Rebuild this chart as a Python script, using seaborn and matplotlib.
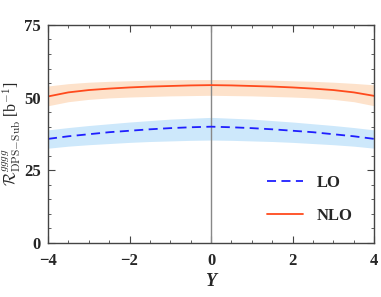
import numpy as np
import pandas as pd
import seaborn as sns
import matplotlib.pyplot as plt

# rapidity grid and values
rapidity = [-4, -3.5, -3, -2.5, -2, -1.5, -1, -0.5, 0, 0.5, 1, 1.5, 2, 2.5, 3, 3.5, 4]

lo_central = [35.8, 36.7, 37.4, 38.1, 38.6, 39.1, 39.5, 39.8, 40.0,
              39.8, 39.5, 39.1, 38.6, 38.1, 37.4, 36.7, 35.8]
lo_upper = [38.9, 39.7, 40.4, 41.0, 41.6, 42.1, 42.6, 42.9, 43.2,
            42.9, 42.6, 42.1, 41.6, 41.0, 40.4, 39.7, 38.9]
lo_lower = [32.6, 33.3, 33.8, 34.2, 34.6, 34.9, 35.1, 35.3, 35.4,
            35.3, 35.1, 34.9, 34.6, 34.2, 33.8, 33.3, 32.6]

nlo_central = [50.4, 51.8, 52.6, 53.1, 53.5, 53.8, 54.0, 54.2, 54.3,
               54.2, 54.0, 53.8, 53.5, 53.1, 52.6, 51.8, 50.6]
nlo_upper = [54.0, 54.8, 55.3, 55.6, 55.8, 56.0, 56.1, 56.2, 56.2,
             56.2, 56.1, 56.0, 55.8, 55.6, 55.3, 54.9, 54.4]
nlo_lower = [47.2, 48.6, 49.4, 49.9, 50.2, 50.4, 50.6, 50.7, 50.8,
             50.7, 50.6, 50.4, 50.2, 49.9, 49.4, 48.6, 47.2]

sns.set_style("ticks")
plt.rcParams['font.family'] = ['Liberation Serif', 'DejaVu Serif']
plt.rcParams['mathtext.fontset'] = 'cm'

df = pd.DataFrame({"Y": rapidity + rapidity,
                   "R": lo_central + nlo_central,
                   "order": ["LO"] * len(rapidity) + ["NLO"] * len(rapidity)})

fig = plt.figure(figsize=(3.81, 2.97), dpi=100)
ax = fig.add_axes([0.126, 0.182, 0.856, 0.734])

ax.fill_between(rapidity, lo_lower, lo_upper, color='#cde8fb', lw=0)
ax.fill_between(rapidity, nlo_lower, nlo_upper, color='#fde2cb', lw=0)
ax.axvline(0, color='#888888', lw=1.0)

sns.lineplot(data=df, x="Y", y="R", hue="order", style="order",
             palette={"LO": "#1f1fff", "NLO": "#ff4a1c"},
             dashes={"LO": (5, 3), "NLO": ""}, lw=1.3, ax=ax)

ax.set_xlim(-4, 4)
ax.set_ylim(0, 75)
ax.set_xticks([-4, -2, 0, 2, 4])
ax.set_xticklabels(['−4', '−2', '0', '2', '4'])
ax.set_yticks([0, 25, 50, 75])
ax.set_xticks(np.arange(-4, 4.01, 0.5), minor=True)
ax.set_yticks(np.arange(0, 75.1, 5), minor=True)
ax.tick_params(which='both', direction='in', top=True, right=True, color='#444444')
ax.tick_params(which='major', length=5, labelsize=12, pad=5)
ax.tick_params(axis='x', which='major', pad=7)
ax.tick_params(which='minor', length=2.5)
for lab in ax.get_xticklabels() + ax.get_yticklabels():
    lab.set_fontweight('bold')
for s in ax.spines.values():
    s.set_color('#444444')
    s.set_linewidth(1.0)

ax.set_xlabel('Y', fontsize=13, fontweight='bold', style='italic', labelpad=3)
ax.set_ylabel(r'$\mathcal{R}^{gggg}_{\rm DPS\!-\!Sub}$ [b$^{-1}$]', fontsize=11.5)
ax.yaxis.set_label_coords(-0.078, 0.5)

leg = ax.legend(loc='lower right', frameon=False, fontsize=12, handlelength=2.2,
                labelspacing=1.0, bbox_to_anchor=(0.98, 0.02))
for t in leg.get_texts():
    t.set_fontweight('bold')

fig.savefig("out.png", dpi=100)
